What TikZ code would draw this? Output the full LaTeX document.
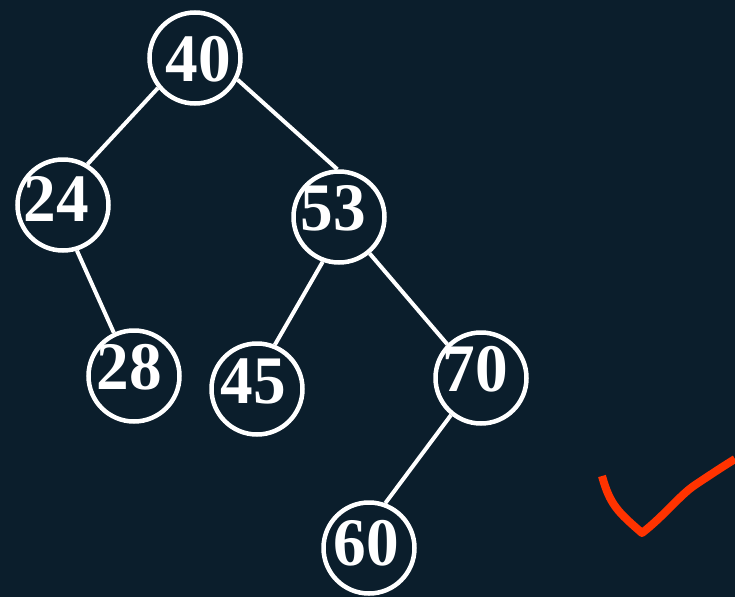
\documentclass[tikz,border=0pt]{standalone}
\usepackage{fontspec}
\usetikzlibrary{calc}
\newfontfamily\numfont[FakeStretch=0.96]{Liberation Serif}
\definecolor{bg}{RGB}{11,30,44}
\definecolor{checkred}{RGB}{255,51,0}
\begin{document}
\begin{tikzpicture}[x=1pt,y=-1pt,
  tnode/.style={circle,draw=white,line width=4.5pt,minimum size=91pt,inner sep=0pt},
  numtext/.style={text=white,inner sep=0pt,font=\numfont\bfseries\fontsize{68}{68}\selectfont},
  edge/.style={draw=white,line width=4pt}]
\fill[bg] (0,0) rectangle (735,597);
\useasboundingbox (0,0) rectangle (735,597);
\node[tnode] (n40) at (195,58) {};
\node[tnode] (n24) at (63,205) {};
\node[tnode] (n53) at (339,217) {};
\node[tnode] (n28) at (134,376) {};
\node[tnode] (n45) at (257,389) {};
\node[tnode] (n70) at (481,378) {};
\node[tnode] (n60) at (369,548) {};
\node[numtext] (t40) at ($(n40)+(3,1)$) {40};
\node[numtext] (t24) at ($(n24)+(-7,-6)$) {24};
\node[numtext] (t53) at ($(n53)+(-6,-9)$) {53};
\node[numtext] (t28) at ($(n28)+(-5,-9)$) {28};
\node[numtext] (t45) at ($(n45)+(-4,-8)$) {45};
\node[numtext] (t70) at ($(n70)+(-6,-9)$) {70};
\node[numtext] (t60) at ($(n60)+(-3,-5)$) {60};
\draw[edge] (n40.219) -- (n24.59);
\draw[edge] (n40.-27) -- (n53.92);
\draw[edge] (n24.-73) -- (n28.115);
\draw[edge] (n53.250) -- (n45.68);
\draw[edge] (n53.-50) -- (n70.135);
\draw[edge] (n70.231) -- (n60.70);
\coordinate (c1) at (602,476);
\coordinate (c2) at (642,533);
\coordinate (c3) at (735,459);
\draw[checkred,line width=8pt,line join=round]
  (c1) .. controls (610,505) and (618,512) .. (c2)
  .. controls (665,515) and (680,495) .. (695,485)
  .. controls (710,475) and (722,467) .. (c3);
\end{tikzpicture}
\end{document}
